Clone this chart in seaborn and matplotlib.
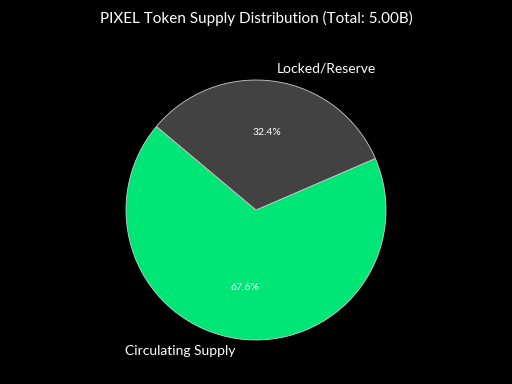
import matplotlib
matplotlib.use("Agg")
import matplotlib.pyplot as plt
import seaborn as sns

labels = ["Circulating Supply", "Locked/Reserve"]
values = [67.6, 32.4]
colors = ["#00E676", "#424242"]
title = "PIXEL Token Supply Distribution (Total: 5.00B)"

sns.set_theme(style="dark")
plt.rcParams['font.family'] = ['Lato', 'DejaVu Sans']

fig = plt.figure(figsize=(5.12, 3.84), dpi=100, facecolor="black")
ax = fig.add_axes([106/512, 24/384, 300/512, 300/384])
ax.set_facecolor("black")
wedges, texts, autotexts = ax.pie(
    values, labels=labels, colors=colors, autopct="%1.1f%%",
    startangle=140, counterclock=True,
    wedgeprops=dict(edgecolor="#cccccc", linewidth=0.6),
    textprops=dict(color="white", fontsize=10),
)
for t in autotexts:
    t.set_fontsize(7.5)
    t.set_color("white")
L = 300 / 260
ax.set_xlim(-L, L)
ax.set_ylim(-L, L)
ax.set_aspect("equal")
ax.axis("off")
fig.text(0.5, 1 - 18/384, title, ha="center", va="center", color="white", fontsize=11)
fig.savefig("out.png", dpi=100, facecolor="black")
